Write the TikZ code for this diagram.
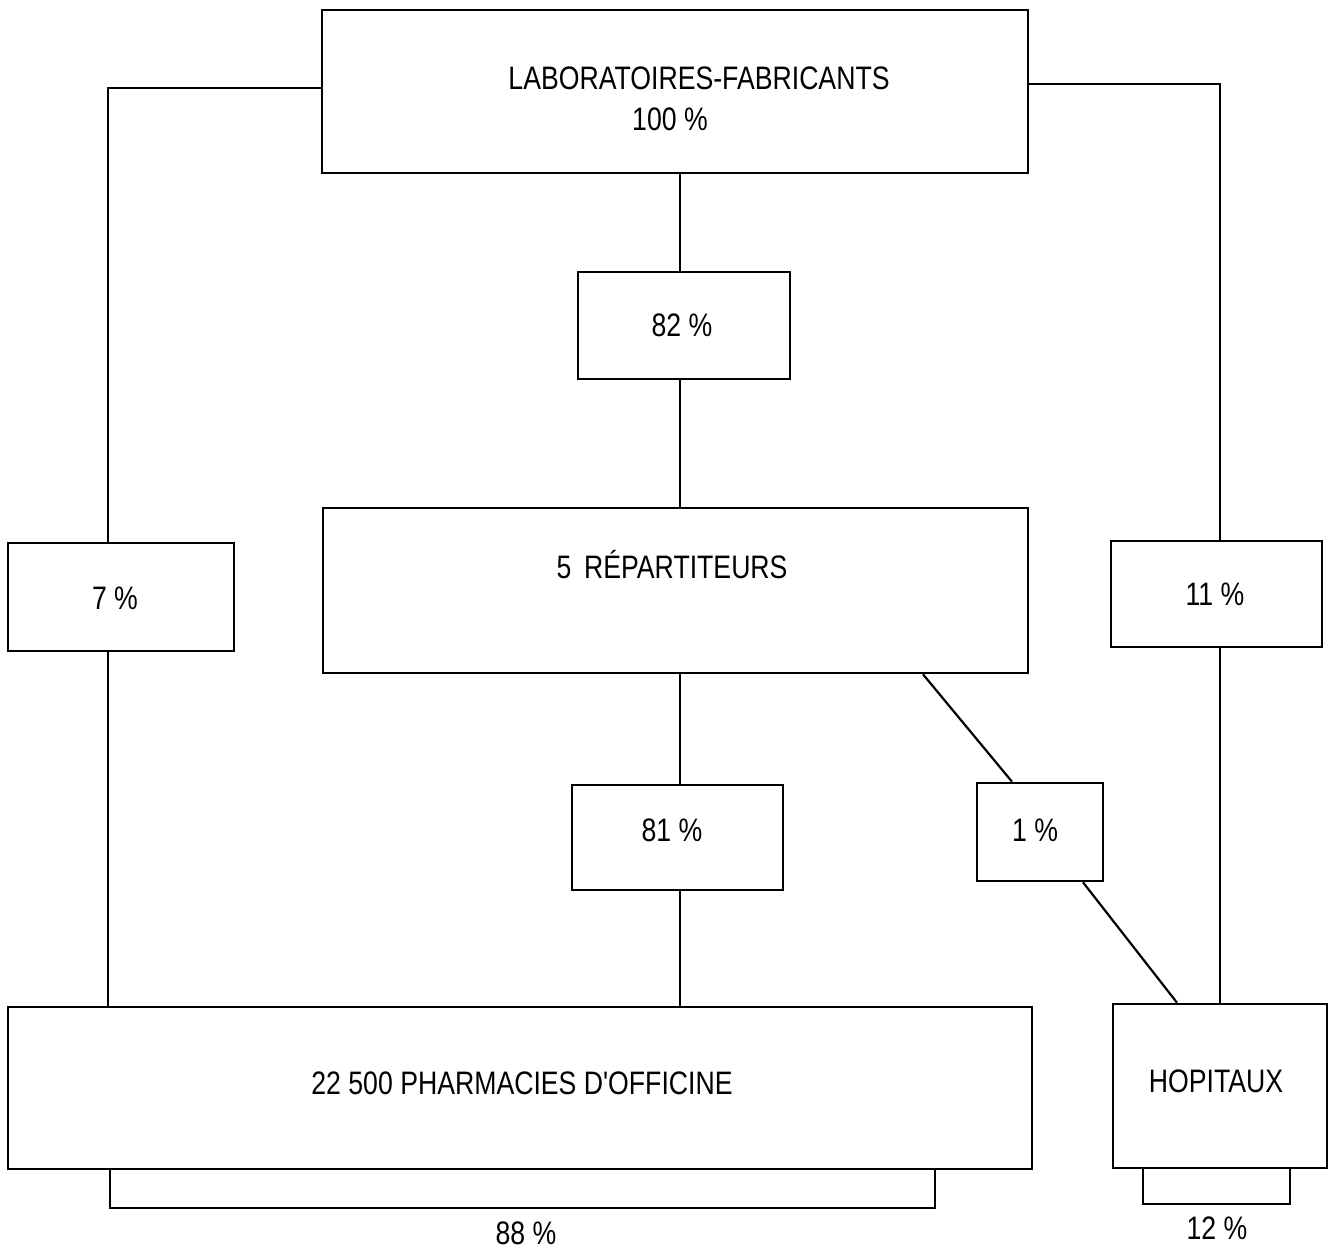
\documentclass[tikz,border=0pt]{standalone}
\usepackage{fontspec}
\setmainfont{Liberation Sans}[FakeStretch=0.82, Ligatures=TeXOff]
\begin{document}
\begin{tikzpicture}[x=1pt,y=-1pt,
  box/.style={draw, line width=2.6pt, rectangle, inner sep=0pt, anchor=center},
  lbl/.style={font=\fontsize{32.5}{38}\selectfont, inner sep=0pt, anchor=center, align=center},
  conn/.style={line width=2.2pt}]
\useasboundingbox (0,0) rectangle (1330,1250);
\fill[white] (0,0) rectangle (1330,1250);
% boxes
\node[box, minimum width=706pt, minimum height=163pt] (LAB) at (675,91.5) {};
\node[lbl] (LABt) at (699,78) {LABORATOIRES-FABRICANTS};
\node[lbl] (LABp) at (670,119) {100 \%};
\node[box, minimum width=212pt, minimum height=107pt] (p82) at (684,325.5) {};
\node[lbl] (p82t) at (682,325) {82 \%};
\node[box, minimum width=705pt, minimum height=165pt] (REP) at (675.5,590.5) {};
\node[lbl] (REPt) at (672,565) {5\, RÉPARTITEURS};
\node[box, minimum width=211pt, minimum height=105pt] (p81) at (677.5,837.5) {};
\node[lbl] (p81t) at (672,830) {81 \%};
\node[box, minimum width=126pt, minimum height=98pt] (p1) at (1040,832) {};
\node[lbl] (p1t) at (1035,830) {1 \%};
\node[box, minimum width=226pt, minimum height=108pt] (p7) at (121,597) {};
\node[lbl] (p7t) at (115,598) {7 \%};
\node[box, minimum width=211pt, minimum height=106pt] (p11) at (1216.5,594) {};
\node[lbl] (p11t) at (1215,594) {11 \%};
\node[box, minimum width=1024pt, minimum height=162pt] (PH) at (520,1088) {};
\node[lbl] (PHt) at (522,1083) {22 500 PHARMACIES D'OFFICINE};
\node[box, minimum width=214pt, minimum height=164pt] (HOP) at (1220,1086) {};
\node[lbl] (HOPt) at (1216,1081) {HOPITAUX};
\node[lbl] (p88) at (526,1233) {88 \%};
\node[lbl] (p12) at (1217,1228) {12 \%};
% helper coordinates
\coordinate (lc) at (108,88);
\coordinate (rc) at (1220,84);
\coordinate (cx) at (680,0);
\coordinate (d1) at (923,0);
\coordinate (d2) at (1012,0);
\coordinate (d3) at (1083,0);
\coordinate (d4) at (1177,0);
\coordinate (b1) at (110,1208);
\coordinate (b2) at (935,1208);
\coordinate (h1) at (1143,1204);
\coordinate (h2) at (1290,1204);
% connectors
\draw[conn] (LAB.west |- lc) -- (lc) -- (lc |- p7.north);
\draw[conn] (lc |- p7.south) -- (lc |- PH.north);
\draw[conn] (LAB.east |- rc) -- (rc) -- (rc |- p11.north);
\draw[conn] (rc |- p11.south) -- (rc |- HOP.north);
\draw[conn] (cx |- LAB.south) -- (cx |- p82.north);
\draw[conn] (cx |- p82.south) -- (cx |- REP.north);
\draw[conn] (cx |- REP.south) -- (cx |- p81.north);
\draw[conn] (cx |- p81.south) -- (cx |- PH.north);
\draw[conn] (d1 |- REP.south) -- (d2 |- p1.north);
\draw[conn] (d3 |- p1.south) -- (d4 |- HOP.north);
\draw[conn] (b1 |- PH.south) -- (b1) -- (b2) -- (b2 |- PH.south);
\draw[conn] (h1 |- HOP.south) -- (h1) -- (h2) -- (h2 |- HOP.south);
\end{tikzpicture}
\end{document}
